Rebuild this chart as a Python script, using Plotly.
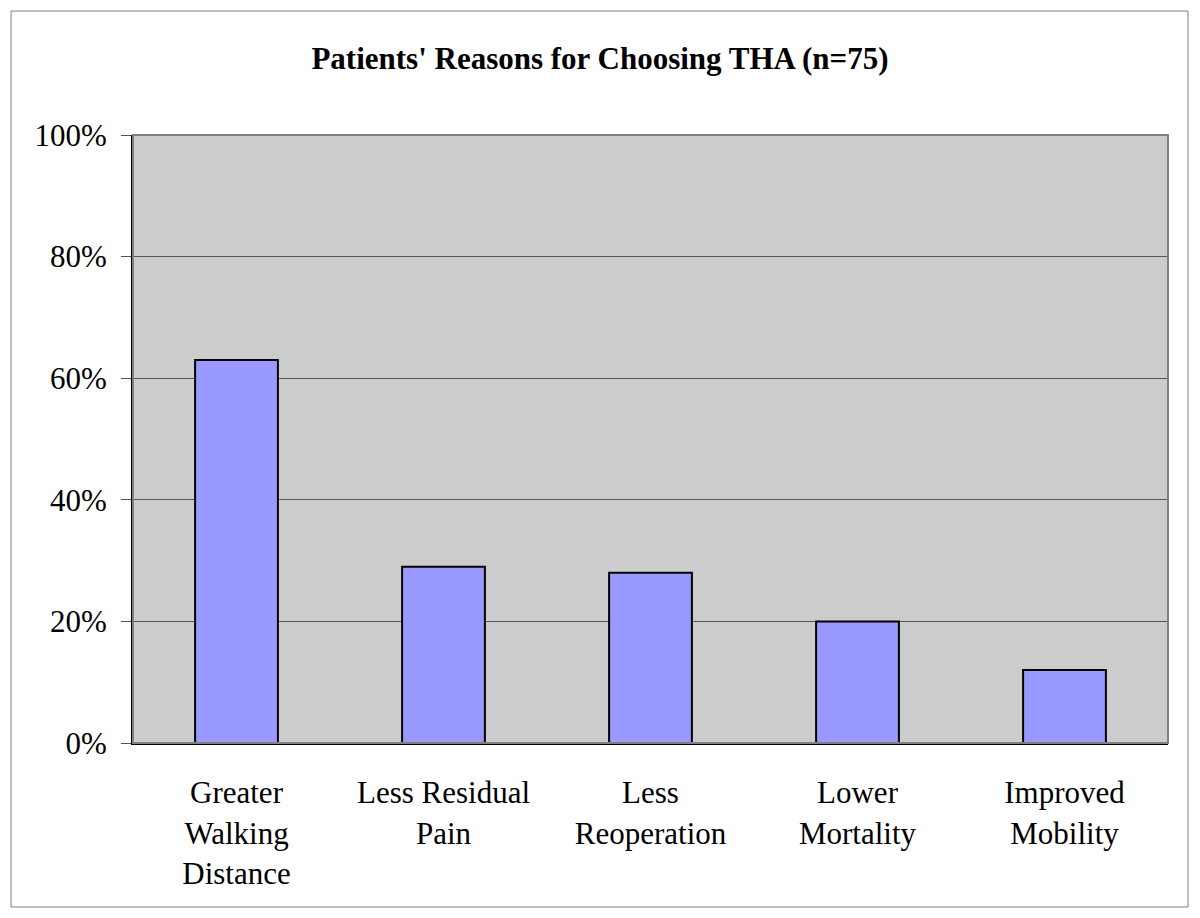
import plotly.graph_objects as go

categories = ["Greater<br>Walking<br>Distance", "Less Residual<br>Pain", "Less<br>Reoperation",
              "Lower<br>Mortality", "Improved<br>Mobility"]
values = [0.63, 0.29, 0.28, 0.20, 0.12]
y_ticks = [0, 0.2, 0.4, 0.6, 0.8, 1.0]
y_tick_labels = ["0%", "20%", "40%", "60%", "80%", "100%"]
title_text = "Patients' Reasons for Choosing THA (n=75)"

FONT = "Liberation Serif"

fig = go.Figure()
fig.add_trace(go.Bar(
    x=categories, y=values,
    marker=dict(color="#9999FF", line=dict(color="#000000", width=2)),
    width=0.4,
))

fig.update_layout(
    width=1200, height=918,
    paper_bgcolor="white", plot_bgcolor="#CCCCCC",
    margin=dict(l=133, r=32, t=135, b=175),
    showlegend=False,
    title=dict(text="<b>" + title_text + "</b>", x=0.5, xref="container",
               y=1 - 58 / 918, yref="container", yanchor="middle", xanchor="center",
               font=dict(family=FONT, size=31, color="black")),
    font=dict(family=FONT, color="black"),
    shapes=[
        dict(type="rect", xref="paper", yref="paper", x0=0, x1=1, y0=0, y1=1,
             line=dict(color="#808080", width=2), layer="above"),
        dict(type="rect", xref="paper", yref="paper",
             x0=(11 - 133) / 1035, x1=(1188 - 133) / 1035,
             y0=-(907 - 743) / 608, y1=1 + (135 - 11) / 608,
             line=dict(color="#808080", width=1)),
    ],
)

fig.update_xaxes(
    showgrid=False, showline=True, linecolor="#000000", linewidth=2,
    ticks="outside", ticklen=21, tickcolor="rgba(0,0,0,0)",
    tickfont=dict(family=FONT, size=31, color="black"),
    range=[-0.5, 4.5],
)
fig.update_yaxes(
    range=[0, 1], tickvals=y_ticks, ticktext=y_tick_labels,
    showgrid=True, gridcolor="#555555", gridwidth=1,
    showline=True, linecolor="#000000", linewidth=2,
    ticks="outside", ticklen=10, tickcolor="#555555",
    ticklabelstandoff=8,
    tickfont=dict(family=FONT, size=31, color="black"),
    zeroline=False,
)

fig.write_html("out.html", config={"displayModeBar": False},
               post_script="document.body.style.margin='0px';")
